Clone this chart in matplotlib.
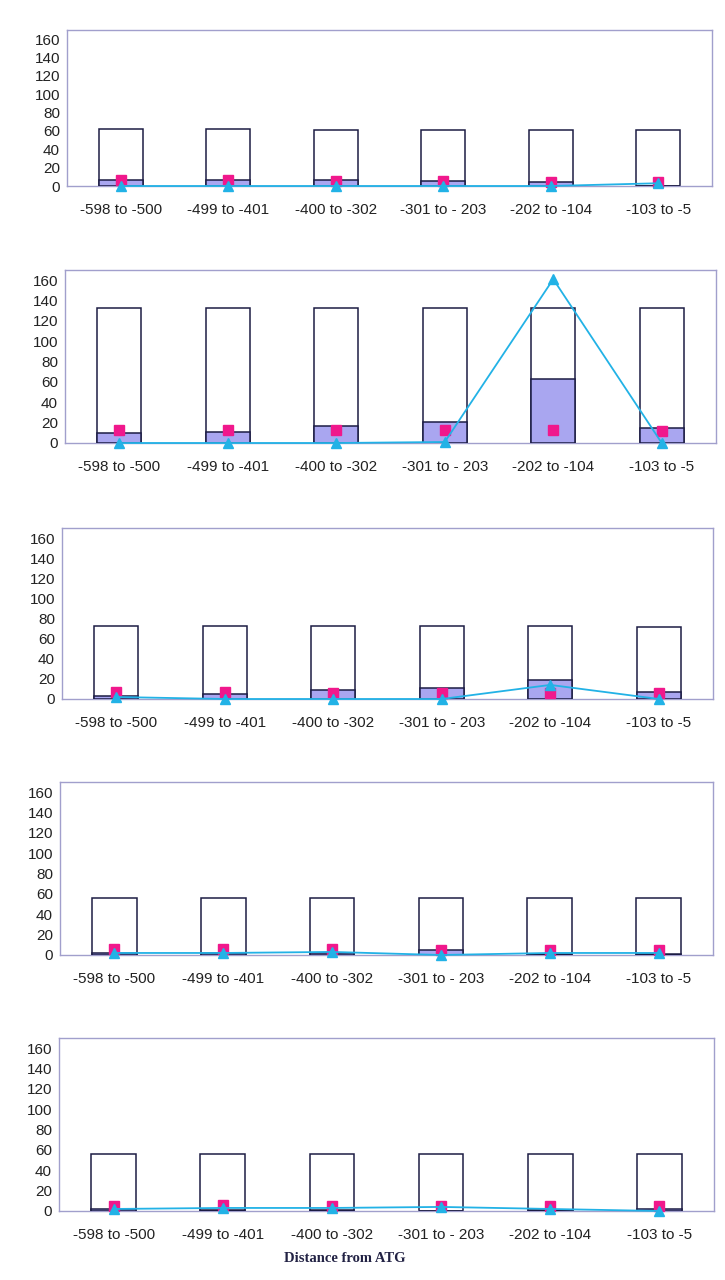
import matplotlib
matplotlib.use("Agg")
import matplotlib.pyplot as plt
import numpy as np

categories = ["-598 to -500", "-499 to -401", "-400 to -302", "-301 to - 203", "-202 to -104", "-103 to -5"]

totals = [
    [62, 62, 61, 61, 61, 61],
    [133, 133, 133, 133, 133, 133],
    [73, 73, 73, 73, 73, 72],
    [56, 56, 56, 56, 56, 56],
    [56, 56, 56, 56, 56, 56],
]
subsets = [
    [6, 7, 6, 5, 4, 0],
    [10, 11, 17, 21, 63, 15],
    [3, 5, 9, 11, 19, 7],
    [2, 2, 2, 5, 1, 1],
    [2, 1, 1, 0, 1, 2],
]
squares = [
    [6, 6, 5, 5, 4, 4],
    [13, 13, 13, 13, 13, 12],
    [7, 7, 6, 6, 6, 6],
    [6, 6, 6, 5, 5, 5],
    [5, 6, 5, 5, 5, 5],
]
triangles = [
    [0, 0, 0, 0, 0, 3],
    [0, 0, 0, 1, 161, 0],
    [2, 0, 0, 0, 14, 0],
    [2, 2, 3, 0, 2, 2],
    [2, 3, 3, 4, 2, 0],
]
yticks = [0, 20, 40, 60, 80, 100, 120, 140, 160]
xlabel = "Distance from ATG"

W, H = 725, 1280
# panel boxes in pixels: left, right, top, bottom(0 baseline)
boxes = [
    (67, 712, 30, 186),
    (65, 716, 270, 443),
    (62, 713, 528, 699),
    (60, 713, 782, 955),
    (59, 714, 1038, 1211),
]

fig = plt.figure(figsize=(W / 100, H / 100), dpi=100)
fig.patch.set_facecolor("white")

frame_col = "#a19fcc"
edge_col = "#1c1c44"
fill_col = "#a9a6f0"
pink = "#f0188c"
cyan = "#22b2e6"

x = np.arange(len(categories))
bw = 0.41

for i, (l, r, t, b) in enumerate(boxes):
    ax = fig.add_axes([l / W, 1 - b / H, (r - l) / W, (b - t) / H])
    ax.bar(x, totals[i], width=bw, facecolor="white", edgecolor=edge_col, linewidth=1.1, zorder=2)
    ax.bar(x, subsets[i], width=bw, facecolor=fill_col, edgecolor=edge_col, linewidth=1.1, zorder=3)
    ax.plot(x, squares[i], linestyle="none", marker="s", markersize=7.5,
            color=pink, markeredgecolor=pink, zorder=4, clip_on=False)
    ax.plot(x, triangles[i], color=cyan, linewidth=1.3, marker="^", markersize=7,
            markeredgecolor=cyan, zorder=5, clip_on=False)
    ax.set_xlim(-0.5, len(categories) - 0.5)
    ax.set_ylim(0, 170)
    ax.set_yticks(yticks)
    ax.set_yticklabels([str(v) for v in yticks], fontsize=11, family="Liberation Sans", color="#222222")
    ax.set_xticks(x)
    ax.set_xticklabels(categories, fontsize=11, family="Liberation Sans", color="#222222")
    ax.tick_params(axis="both", length=0)
    ax.tick_params(axis="y", pad=5)
    ax.tick_params(axis="x", pad=12)
    for s in ax.spines.values():
        s.set_color(frame_col)
        s.set_linewidth(1.0)

fig.text(345 / W, 1 - 1258 / H, xlabel, ha="center", va="center",
         fontsize=10.5, fontweight="bold", family="Liberation Serif", color="#222244")

fig.savefig("out.png", dpi=100, facecolor="white")
